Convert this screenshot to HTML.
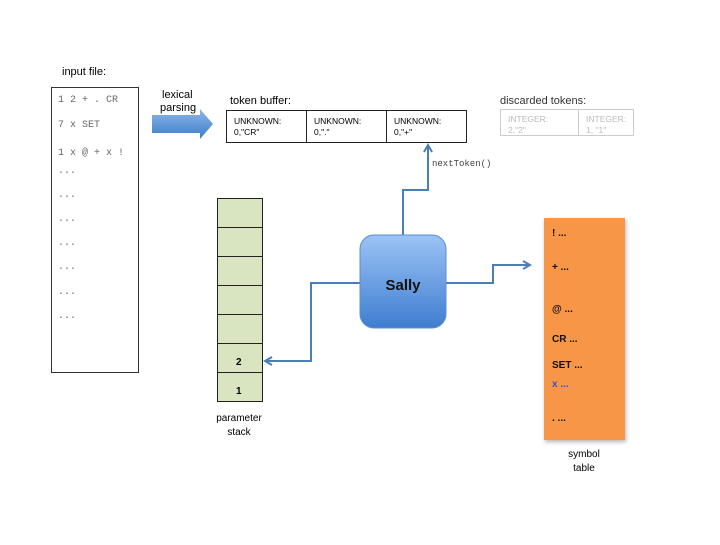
<!DOCTYPE html>
<html><head><style>
body{margin:0;background:#fff;}
svg text{font-family:"Liberation Sans",sans-serif;}
.m{font-family:"Liberation Mono",monospace;}
</style></head><body>
<svg width="720" height="540" xmlns="http://www.w3.org/2000/svg">
<defs>
<linearGradient id="g" x1="0" y1="0" x2="0" y2="1"><stop offset="0" stop-color="#9cc3f5"/><stop offset="1" stop-color="#3f7ed0"/></linearGradient>
<linearGradient id="ar" x1="0" y1="0" x2="0" y2="1"><stop offset="0" stop-color="#8db8ea"/><stop offset="1" stop-color="#3d7cc9"/></linearGradient>
<marker id="h" markerWidth="10" markerHeight="10" refX="8" refY="5" orient="auto" markerUnits="userSpaceOnUse"><path d="M1,1 L8,5 L1,9" fill="none" stroke="#4a7ebb" stroke-width="2"/></marker>
</defs>
<text x="62" y="75" font-size="11">input file:</text>
<rect x="51.5" y="87.5" width="87" height="285" fill="#fff" stroke="#333"/>
<g font-size="10" fill="#666">
<text x="58" y="102" class="m">1 2 + . CR</text>
<text x="58" y="127" class="m">7 x SET</text>
<text x="58" y="155" class="m">1 x @ + x !</text>
<text x="58" y="173" class="m">...</text>
<text x="58" y="197" class="m">...</text>
<text x="58" y="221" class="m">...</text>
<text x="58" y="245" class="m">...</text>
<text x="58" y="269" class="m">...</text>
<text x="58" y="294" class="m">...</text>
<text x="58" y="318" class="m">...</text>
</g>
<text x="162" y="98" font-size="11">lexical</text>
<text x="160" y="111" font-size="11">parsing</text>
<path d="M152,115 L200,115 L200,109 L213,124 L200,139 L200,133 L152,133 Z" fill="url(#ar)"/>
<text x="230" y="104" font-size="11">token buffer:</text>
<rect x="226.5" y="110.5" width="240" height="32" fill="#fff" stroke="#222"/>
<line x1="306.5" y1="110" x2="306.5" y2="143" stroke="#222"/>
<line x1="386.5" y1="110" x2="386.5" y2="143" stroke="#222"/>
<g font-size="8.5">
<text x="234" y="124">UNKNOWN:</text><text x="234" y="135">0,"CR"</text>
<text x="314" y="124">UNKNOWN:</text><text x="314" y="135">0,"."</text>
<text x="394" y="124">UNKNOWN:</text><text x="394" y="135">0,"+"</text>
</g>
<text x="500" y="104" font-size="11" fill="#333">discarded tokens:</text>
<rect x="500.5" y="109.5" width="133" height="26" fill="#fff" stroke="#ccc"/>
<line x1="578.5" y1="109" x2="578.5" y2="136" stroke="#ccc"/>
<g font-size="8.5" fill="#bbb">
<text x="508" y="122">INTEGER:</text><text x="508" y="133">2,"2"</text>
<text x="586" y="122">INTEGER:</text><text x="586" y="133">1, "1"</text>
</g>
<text x="432" y="166" font-size="9" class="m" fill="#444">nextToken()</text>
<g fill="none" stroke="#4a7ebb" stroke-width="2">
<path d="M403,236 L403,190 L428,190 L428,145" marker-end="url(#h)"/>
<path d="M360,283 L311,283 L311,361 L265,361" marker-end="url(#h)"/>
<path d="M446,283 L493,283 L493,265 L530,265" marker-end="url(#h)"/>
</g>
<g fill="#d9e4c0" stroke="#222">
<rect x="217.5" y="198.5" width="45" height="29"/>
<rect x="217.5" y="227.5" width="45" height="29"/>
<rect x="217.5" y="256.5" width="45" height="29"/>
<rect x="217.5" y="285.5" width="45" height="29"/>
<rect x="217.5" y="314.5" width="45" height="29"/>
<rect x="217.5" y="343.5" width="45" height="29"/>
<rect x="217.5" y="372.5" width="45" height="29"/>
</g>
<text x="236" y="365" font-size="10" font-weight="bold">2</text>
<text x="236" y="394" font-size="10" font-weight="bold">1</text>
<text x="239" y="421" font-size="10" text-anchor="middle">parameter</text>
<text x="239" y="435" font-size="10" text-anchor="middle">stack</text>
<rect x="360" y="235" width="86" height="93" rx="14" fill="url(#g)" stroke="#5a8fd0"/>
<text x="403" y="290" font-size="15" font-weight="bold" text-anchor="middle" fill="#111">Sally</text>
<rect x="544" y="218" width="81" height="222" fill="#f79646" style="filter:drop-shadow(1px 2px 2px rgba(0,0,0,.3))"/>
<g font-size="10" font-weight="bold" fill="#111">
<text x="552" y="236">! ...</text>
<text x="552" y="270">+ ...</text>
<text x="552" y="312">@ ...</text>
<text x="552" y="342">CR ...</text>
<text x="552" y="368">SET ...</text>
<text x="552" y="387" fill="#3a4fd8">x ...</text>
<text x="552" y="421">. ...</text>
</g>
<text x="584" y="457" font-size="10" text-anchor="middle">symbol</text>
<text x="584" y="471" font-size="10" text-anchor="middle">table</text>
</svg>
</body></html>
